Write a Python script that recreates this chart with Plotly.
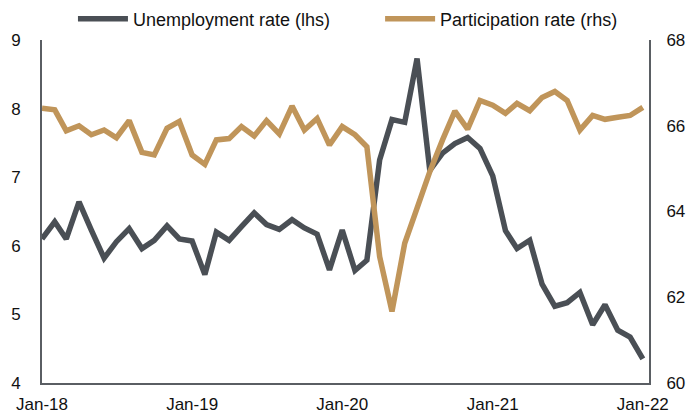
import plotly.graph_objects as go
import pandas as pd

months = pd.date_range("2018-01-01", "2022-01-01", freq="MS")

unemployment = [6.10, 6.35, 6.10, 6.64, 6.23, 5.82, 6.06, 6.25, 5.96, 6.08, 6.29, 6.10,
                6.07, 5.58, 6.20, 6.08, 6.28, 6.48, 6.31, 6.24, 6.38, 6.26, 6.17, 5.65,
                6.23, 5.64, 5.79, 7.25, 7.84, 7.80, 8.73, 7.10, 7.35, 7.49, 7.58, 7.42,
                7.02, 6.22, 5.96, 6.08, 5.44, 5.12, 5.17, 5.32, 4.85, 5.14, 4.77, 4.67,
                4.35]

participation = [66.41, 66.37, 65.88, 66.00, 65.79, 65.90, 65.72, 66.12, 65.38, 65.32, 65.94, 66.10,
                 65.32, 65.10, 65.67, 65.70, 65.98, 65.76, 66.12, 65.81, 66.46, 65.90, 66.17, 65.55,
                 65.98, 65.79, 65.51, 62.95, 61.67, 63.26, 64.08, 64.93, 65.67, 66.34, 65.92, 66.59,
                 66.48, 66.29, 66.52, 66.35, 66.66, 66.80, 66.59, 65.90, 66.24, 66.15, 66.20, 66.24,
                 66.43]

tick_dates = ["2018-01-01", "2019-01-01", "2020-01-01", "2021-01-01", "2022-01-01"]
tick_labels = ["Jan-18", "Jan-19", "Jan-20", "Jan-21", "Jan-22"]

dark = "#4a4f55"
gold = "#c0955a"
axis_col = "#5a5e63"
font_family = "Liberation Sans, Arial, sans-serif"

fig = go.Figure()
fig.add_trace(go.Scatter(x=months, y=unemployment, name="Unemployment rate (lhs)",
                         mode="lines", line=dict(color=dark, width=5.5), yaxis="y",
                         legend="legend"))
fig.add_trace(go.Scatter(x=months, y=participation, name="Participation rate (rhs)",
                         mode="lines", line=dict(color=gold, width=5.5), yaxis="y2",
                         legend="legend2"))

leg_common = dict(orientation="h", xanchor="left", y=1.061, yanchor="middle",
                  font=dict(size=18, family=font_family, color="#111111"),
                  bgcolor="rgba(0,0,0,0)", itemwidth=50)

# page body adds an 8px offset, so the figure is 692x408 placed at (8, 8)
fig.update_layout(
    width=692, height=408,
    margin=dict(l=34, r=51, t=32, b=33, autoexpand=False),
    paper_bgcolor="white", plot_bgcolor="white",
    font=dict(family=font_family, size=17, color="#111111"),
    showlegend=True,
    legend=dict(x=0.051, **leg_common),
    legend2=dict(x=0.557, **leg_common),
    xaxis=dict(type="date", range=["2018-01-01", "2022-01-16"],
               tickvals=tick_dates, ticktext=tick_labels,
               showline=True, linecolor=axis_col, linewidth=2,
               showgrid=False, zeroline=False, ticks="", ticklen=0,
               ticklabelstandoff=5, tickfont=dict(size=17)),
    yaxis=dict(range=[4, 9], tickvals=[4, 5, 6, 7, 8, 9],
               showline=True, linecolor=axis_col, linewidth=2,
               showgrid=False, zeroline=False, ticks="", ticklabelstandoff=16,
               tickfont=dict(size=17)),
    yaxis2=dict(range=[60, 68], tickvals=[60, 62, 64, 66, 68], overlaying="y", side="right",
                showline=True, linecolor=axis_col, linewidth=2,
                showgrid=False, zeroline=False, ticks="", ticklabelstandoff=12,
                tickfont=dict(size=17)),
)

fig.write_html("out.html")
